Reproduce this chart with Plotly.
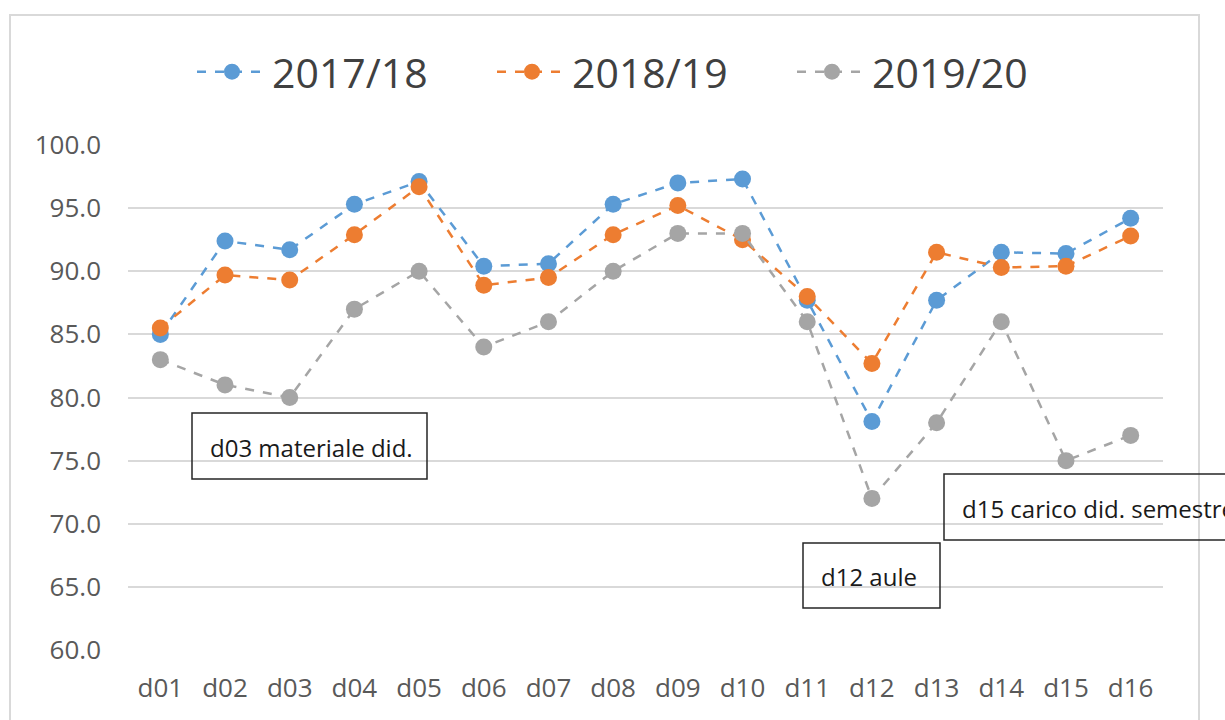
import plotly.graph_objects as go

categories = ["d01", "d02", "d03", "d04", "d05", "d06", "d07", "d08",
              "d09", "d10", "d11", "d12", "d13", "d14", "d15", "d16"]
s2017 = [85.0, 92.4, 91.7, 95.3, 97.1, 90.4, 90.6, 95.3, 97.0, 97.3, 87.7, 78.1, 87.7, 91.5, 91.4, 94.2]
s2018 = [85.5, 89.7, 89.3, 92.9, 96.7, 88.9, 89.5, 92.9, 95.2, 92.5, 88.0, 82.7, 91.5, 90.3, 90.4, 92.8]
s2019 = [83.0, 81.0, 80.0, 87.0, 90.0, 84.0, 86.0, 90.0, 93.0, 93.0, 86.0, 72.0, 78.0, 86.0, 75.0, 77.0]
series_names = ["2017/18", "2018/19", "2019/20"]
colors = ["#5B9BD5", "#ED7D31", "#A5A5A5"]
yticks = [60, 65, 70, 75, 80, 85, 90, 95, 100]
notes = ["d03 materiale did.", "d12 aule", "d15 carico did. semestre"]

W, H = 1225, 720
L, R, T, B = 128, 1163, 145, 650


def px(x):
    return (x - L) / (R - L)


def py(y):
    return (B - y) / (B - T)


fig = go.Figure()
for name, vals, c in zip(series_names, [s2017, s2018, s2019], colors):
    fig.add_trace(go.Scatter(
        x=categories, y=vals, name=name, mode="lines+markers",
        line=dict(color=c, width=2.5, dash="dash"),
        marker=dict(color=c, size=17),
        cliponaxis=False,
    ))

shapes = [
    # outer chart frame
    dict(type="rect", xref="paper", yref="paper",
         x0=px(10), x1=px(1199), y0=py(740), y1=py(15),
         line=dict(color="#D9D9D9", width=2), fillcolor="rgba(0,0,0,0)", layer="below"),
]
boxes = [
    (192, 427, 413, 479, 208, notes[0]),
    (803, 940, 543, 608, 819, notes[1]),
    (944, 1260, 474, 540, 960, notes[2]),
]
annotations = []
for x0, x1, y0, y1, tx, txt in boxes:
    shapes.append(dict(type="rect", xref="paper", yref="paper",
                       x0=px(x0), x1=px(x1), y0=py(y1), y1=py(y0),
                       line=dict(color="#262626", width=1.5),
                       fillcolor="rgba(0,0,0,0)", layer="above"))
    annotations.append(dict(xref="paper", yref="paper", x=px(tx), y=py((y0 + y1) / 2 + 1),
                            xanchor="left", yanchor="middle", showarrow=False, text=txt,
                            font=dict(family="Open Sans", size=24, color="#1a1a1a")))

fig.update_layout(
    width=W, height=H,
    margin=dict(l=L, r=W - R, t=T, b=H - B),
    paper_bgcolor="white", plot_bgcolor="white",
    font=dict(family="Open Sans", color="#595959"),
    showlegend=True,
    legend=dict(orientation="h", x=px(192), xanchor="left", y=py(72), yanchor="middle",
                font=dict(size=41, color="#404040"), itemwidth=70,
                entrywidth=215, entrywidthmode="pixels", bgcolor="rgba(0,0,0,0)"),
    xaxis=dict(type="category", categoryorder="array", categoryarray=categories,
               range=[-0.5, 15.5], showgrid=False, showline=False, zeroline=False,
               ticks="", tickfont=dict(size=26, color="#595959"), ticklabelstandoff=20),
    yaxis=dict(range=[60, 100], tickvals=yticks, ticktext=[f"{v:.1f}" for v in yticks],
               showgrid=True, gridcolor="#D9D9D9", gridwidth=2, zeroline=False, showline=False,
               ticks="", tickfont=dict(size=26, color="#595959"), ticklabelstandoff=26),
    shapes=shapes,
    annotations=annotations,
)

fig.write_html("out.html", config={"displayModeBar": False},
               post_script="document.body.style.margin='0';")
